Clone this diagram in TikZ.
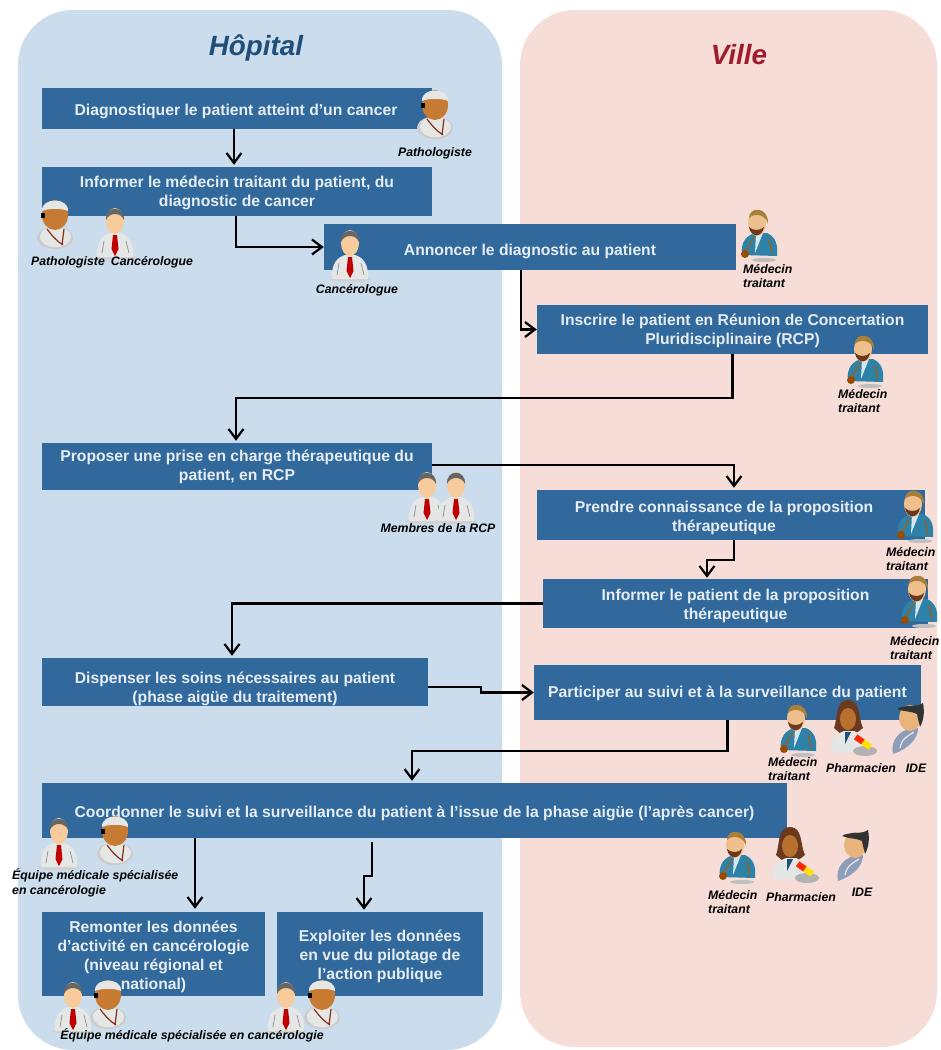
\documentclass[tikz,border=0pt]{standalone}
\usepackage{fontspec}
\setmainfont{Liberation Sans}
\usepackage{tikz}
\usetikzlibrary{arrows.meta}
\definecolor{panelblue}{HTML}{CBDDEC}
\definecolor{panelpink}{HTML}{F6DDD8}
\definecolor{boxblue}{HTML}{31699D}
\definecolor{boxtext}{HTML}{E6EDF4}
\definecolor{titleblue}{HTML}{1F4E79}
\definecolor{titlered}{HTML}{A01C2C}
\definecolor{skinlight}{HTML}{F7CB9B}
\definecolor{skindark}{HTML}{C77B32}
\definecolor{coatgrey}{HTML}{E4E7E6}
\definecolor{coatteal}{HTML}{2E82A8}
\definecolor{coatide}{HTML}{8E9DB8}
\definecolor{hairbrown}{HTML}{6B3A1E}
\definecolor{hairblond}{HTML}{A8803A}

\begin{document}
\begin{tikzpicture}[
    x=1pt, y=-1pt,
    > = {Straight Barb[length=10pt,width=15pt]},
    vector/.style = {line width=2.2pt,->},
    panel/.style = {rounded corners=55pt, inner sep=0pt},
    titre/.style = {font=\fontsize{27.8}{32}\selectfont\bfseries\itshape},
    etape/.style = {fill=boxblue, text=boxtext, align=center, inner sep=0pt,
      font=\fontsize{15.7}{19}\selectfont\bfseries},
    descente/.style n args = {2}{text height={(#1-1)*19pt+11.5pt+2*#2pt}},
    role/.style = {font=\fontsize{12.3}{14.5}\selectfont\bfseries\itshape, inner sep=0pt, align=center},
    roleg/.style = {role, align=left, anchor=west},
    cancerologue/.pic = {
      \fill[black!18] (0,24) ellipse (21 and 3);
      \fill[coatgrey] (-18,24) .. controls (-19,8) and (-12,2) .. (-5,0) -- (5,0)
        .. controls (12,2) and (19,8) .. (18,24) -- cycle;
      \fill[red!75!black] (-2,2) -- (2,2) -- (3.5,16) -- (0,23) -- (-3.5,16) -- cycle;
      \draw[black!45, line width=.7pt] (-11,8) -- (-13,20) (11,8) -- (14,20);
      \fill[skinlight] (0,-12) ellipse (9 and 13);
      \fill[black!60] (-9,-13) .. controls (-10,-28) and (10,-28) .. (9,-13)
        .. controls (6,-21) and (-6,-21) .. cycle;
    },
    pathologiste/.pic = {
      \fill[black!20] (-18,10) .. controls (-18,26) and (18,26) .. (18,10)
        .. controls (16,-4) and (-16,-4) .. cycle;
      \fill[coatgrey] (-15,9) .. controls (-15,24) and (16,24) .. (16,9)
        .. controls (14,-3) and (-14,-3) .. cycle;
      \draw[hairbrown!80!red, line width=1.2pt] (-8,2) .. controls (-2,10) and (2,14) .. (8,18) (9,2) -- (7,18);
      \fill[skindark] (0,-12) ellipse (13 and 15);
      \fill[black] (-14,-14) rectangle (-10,-9);
      \fill[coatgrey] (-13,-16) .. controls (-14,-30) and (14,-30) .. (13,-16)
        .. controls (6,-19) and (-6,-19) .. cycle;
    },
    medecin/.pic = {
      \fill[black!25] (6,25) ellipse (12 and 2);
      \fill[coatteal] (-16,20) .. controls (-18,6) and (-10,0) .. (-3,-2) -- (9,-2)
        .. controls (18,2) and (20,10) .. (19,21) -- cycle;
      \fill[white!80!coatteal] (-2,-2) -- (5,-2) -- (-3,18) -- cycle;
      \draw[orange!70!black, line width=1pt] (11,4) -- (14,18) (-4,2) -- (-12,16);
      \fill[orange!60!black] (-13,19) circle (4);
      \fill[skinlight!85!brown] (-1,-12) ellipse (9 and 13);
      \fill[hairbrown] (-9,-8) .. controls (-7,3) and (4,3) .. (6,-8) .. controls (2,-4) and (-5,-4) .. cycle;
      \fill[hairblond] (-9,-17) .. controls (-9,-29) and (11,-29) .. (10,-11)
        .. controls (8,-20) and (-3,-23) .. cycle;
    },
    pharmacien/.pic = {
      \fill[hairbrown] (-14,-2) .. controls (-10,-12) and (-13,-30) .. (0,-30)
        .. controls (13,-30) and (10,-12) .. (15,-2) -- (7,4) -- (-7,4) -- cycle;
      \fill[coatgrey] (-17,22) .. controls (-18,10) and (-12,4) .. (-4,1) -- (6,1)
        .. controls (14,4) and (18,10) .. (17,22) -- cycle;
      \fill[titleblue] (-3,2) -- (3,2) -- (-3,14) -- cycle;
      \fill[skindark!85!hairbrown] (0,-11) ellipse (8 and 11);
      \fill[white!70!black] (17,21) ellipse (12 and 5);
      \fill[red!70!orange, rotate around={-35:(15,12)}] (6,9) rectangle (15,15);
      \fill[yellow!85!orange, rotate around={-35:(15,12)}] (15,9) rectangle (24,15);
    },
    ide/.pic = {
      \fill[coatide] (-15,24) .. controls (-18,10) and (-8,2) .. (-2,0) -- (10,-2)
        .. controls (10,8) and (2,18) .. (-15,24) -- cycle;
      \draw[white!75!coatide, line width=1.2pt] (-8,18) .. controls (-6,8) and (0,6) .. (6,2);
      \fill[skinlight!70!skindark] (2,-12) ellipse (11 and 13);
      \fill[black!80] (-11,-21) .. controls (-4,-18) and (4,-19) .. (9,-16)
        .. controls (10,-10) and (11,-8) .. (12,-3) .. controls (17,-12) and (16,-22) .. (15,-27)
        .. controls (8,-22) and (-4,-26) .. cycle;
    }
    ]
    % fonds
    \node[panel, fill=panelblue, minimum width=484pt, minimum height=1040pt] (hopital) at (260,530) {};
    \node[panel, fill=panelpink, minimum width=417pt, minimum height=1037pt] (ville) at (728.5,528.5) {};
    \node[titre, text=titleblue] (thopital) at (256,48) {Hôpital};
    \node[titre, text=titlered] (tville) at (739,55) {Ville};

    % etapes
    \node[etape, descente={1}{3}, minimum width=390pt, minimum height=41pt] (diag) at (237,108.5) {\hspace*{-2pt}Diagnostiquer le patient atteint d'un cancer};
    \node[etape, descente={2}{1}, minimum width=390pt, minimum height=49pt] (info) at (237,191.5) {Informer le médecin traitant du patient, du\\diagnostic de cancer};
    \node[etape, descente={1}{4}, minimum width=412pt, minimum height=46pt] (annonce) at (530,247) {Annoncer le diagnostic au patient};
    \node[etape, descente={2}{1}, minimum width=391pt, minimum height=49pt] (inscrire) at (732.5,329.5) {Inscrire le patient en Réunion de Concertation\\Pluridisciplinaire (RCP)};
    \node[etape, descente={2}{0}, minimum width=390pt, minimum height=47pt] (propo) at (237,466.5) {Proposer une prise en charge thérapeutique du\\patient, en RCP};
    \node[etape, descente={2}{3}, minimum width=388pt, minimum height=50pt] (prendre) at (731,515) {\hspace*{-14pt}Prendre connaissance de la proposition\\\hspace*{-14pt}thérapeutique};
    \node[etape, descente={2}{2}, minimum width=385pt, minimum height=49pt] (inform) at (735.5,603.5) {Informer le patient de la proposition\\thérapeutique};
    \node[etape, descente={2}{7}, minimum width=386pt, minimum height=48pt] (soins) at (235,682) {Dispenser les soins nécessaires au patient\\(phase aigüe du traitement)};
    \node[etape, descente={1}{1}, minimum width=387pt, minimum height=55pt] (suivi) at (727.5,692.5) {Participer au suivi et à la surveillance du patient};
    \node[etape, descente={1}{3}, minimum width=745pt, minimum height=55pt] (coord) at (414.5,810.5) {Coordonner le suivi et la surveillance du patient à l'issue de la phase aigüe (l'après cancer)};
    \node[etape, descente={4}{3}, minimum width=223pt, minimum height=84pt] (remonter) at (153.5,954) {Remonter les données\\d'activité en cancérologie\\(niveau régional et\\national)};
    \node[etape, descente={3}{2}, minimum width=206pt, minimum height=84pt] (exploit) at (380,954) {Exploiter les données\\en vue du pilotage de\\l'action publique};

    % fleches
    \draw[vector] ([xshift=-3pt]diag.south) -- ([xshift=-3pt,yshift=2pt]info.north);
    \draw[vector] ([xshift=-1pt]info.south) |- (annonce.west);
    \draw[vector] ([xshift=-9pt]annonce.south) |- (inscrire.west);
    \draw[vector] (inscrire.south) -- ++(0,44) -| ([xshift=-1pt,yshift=2pt]propo.north);
    \draw[vector] ([yshift=1.5pt]propo.east) -| ([xshift=3pt,yshift=2pt]prendre.north);
    \draw[vector] ([xshift=3pt]prendre.south) -- ++(0,20) -| ([xshift=-28.5pt,yshift=1pt]inform.north);
    \draw[vector] (inform.west) -| ([xshift=-3pt,yshift=2pt]soins.north);
    \draw[vector] ([yshift=-5pt]soins.east) -- ++(53,0) -- ++(0,5.5) -- (suivi.west);
    \draw[vector] (suivi.south) -- ++(0,31) -| ([xshift=-2.5pt,yshift=2pt]coord.north);
    \draw[vector] (coord.south -| 195,0) -- ([xshift=41.5pt,yshift=3pt]remonter.north);
    \draw[vector] ([xshift=-42.5pt,yshift=-4pt]coord.south) -- ++(0,34) -- ++(-8,0) -- ([xshift=-16pt,yshift=2pt]exploit.north);

    % acteurs
    \pic at (435,117) {pathologiste};
    \pic at (55,227) {pathologiste};
    \pic at (115,233) {cancerologue};
    \pic at (350,255) {cancerologue};
    \pic at (427,497) {cancerologue};
    \pic at (456,497) {cancerologue};
    \pic at (59,843) {cancerologue};
    \pic at (115,843) {pathologiste};
    \pic at (73,1007) {cancerologue};
    \pic at (108,1007) {pathologiste};
    \pic at (286,1007) {cancerologue};
    \pic at (322,1007) {pathologiste};
    \pic at (758,235) {medecin};
    \pic at (864,361) {medecin};
    \pic at (914,516) {medecin};
    \pic at (918,601) {medecin};
    \pic at (797,730) {medecin};
    \pic at (848,730) {pharmacien};
    \pic at (908,730) {ide};
    \pic at (736,857) {medecin};
    \pic at (790,857) {pharmacien};
    \pic at (853,857) {ide};

    % roles
    \node[role] (rpatho) at (435,153) {Pathologiste};
    \node[role] (rpatho2) at (68,262) {Pathologiste};
    \node[role] (rcancero2) at (152,262) {Cancérologue};
    \node[role] (rcancero) at (357,290) {Cancérologue};
    \node[roleg] (rmed1) at (743,276) {Médecin\\traitant};
    \node[roleg] (rmed2) at (838,401) {Médecin\\traitant};
    \node[roleg] (rmed3) at (886,559) {Médecin\\traitant};
    \node[roleg] (rmed4) at (890,648) {Médecin\\traitant};
    \node[role] (rrcp) at (438,528) {Membres de la RCP};
    \node[roleg] (rmed5) at (768,769) {Médecin\\traitant};
    \node[role] (rpharma1) at (861,768) {Pharmacien};
    \node[role] (ride1) at (916,768) {IDE};
    \node[roleg] (requipe1) at (12,883) {Équipe médicale spécialisée\\en cancérologie};
    \node[roleg] (rmed6) at (708,902) {Médecin\\traitant};
    \node[role] (rpharma2) at (801,897) {Pharmacien};
    \node[role] (ride2) at (862,892) {IDE};
    \node[role] (requipe2) at (192,1035) {Équipe médicale spécialisée en cancérologie};

    \useasboundingbox (0,0) rectangle (941,1050);
    \end{tikzpicture}
\end{document}
